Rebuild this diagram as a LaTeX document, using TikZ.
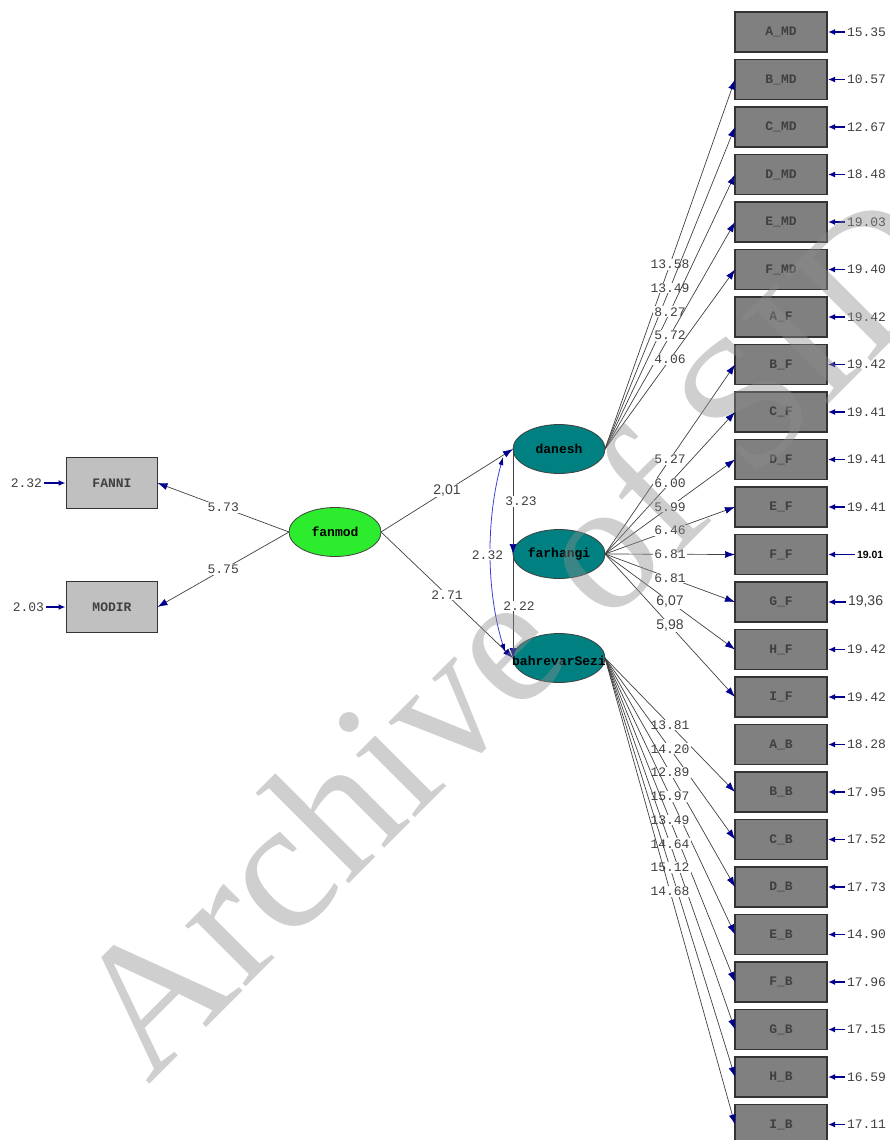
\documentclass[tikz,border=0pt]{standalone}
\usepackage{fontspec}
\newfontfamily\lsmono{Liberation Mono}
\newfontfamily\lssans{Liberation Sans}
\newfontfamily\lsserif{Liberation Serif}
\usetikzlibrary{shapes.geometric,arrows.meta}
\definecolor{lsnavy}{RGB}{0,0,140}
\definecolor{lsblue}{RGB}{60,60,215}
\definecolor{lsteal}{RGB}{0,128,128}
\definecolor{lsgreen}{RGB}{45,235,45}
\definecolor{lsdark}{RGB}{128,128,128}
\definecolor{lslight}{RGB}{192,192,192}
\newcommand\sansnum[1]{{\lssans\fontsize{14}{14}\selectfont #1}}
\newcommand\boldnum[1]{{\lssans\bfseries\fontsize{10.5}{12}\selectfont\color{black}#1}}

\begin{document}
\begin{tikzpicture}[x=1pt,y=-1pt,inner sep=0pt,outer sep=0pt,
mvbox/.style={draw=black!80,rectangle,line width=1.2pt,minimum width=92pt,minimum height=40pt,font=\lsmono\bfseries\fontsize{13}{13}\selectfont,text=black!75},
latvar/.style={draw=black!75,ellipse,line width=0.8pt,minimum width=92pt,minimum height=49pt},
lvname/.style={font=\lsmono\bfseries\fontsize{13}{13}\selectfont,text=black},
tval/.style={fill=white,inner sep=1pt,font=\lsmono\fontsize{13}{13}\selectfont,text=black!75},
errval/.style={font=\lsmono\fontsize{13}{13}\selectfont,text=black!75},
load/.style={draw=black!75,line width=0.7pt,-{Latex[length=10pt,width=7pt,color=lsnavy]}},
errarr/.style={draw=lsnavy,line width=1.6pt,-{Latex[length=7pt,width=6pt]},shorten <=2pt,shorten >=1pt},
covar/.style={draw=lsblue,line width=0.8pt,{Latex[length=8pt,width=5pt,color=lsnavy]}-{Latex[length=8pt,width=5pt,color=lsnavy]}},
wmark/.style={font=\lsserif\fontsize{187}{187}\selectfont,text=black!45,text opacity=0.42}]

\useasboundingbox (0,0) rectangle (889,1140);

% latent variables
\draw (335,532) node[latvar,fill=lsgreen,label={[lvname]center:fanmod}] (fanmod) {};
\draw (559,449) node[latvar,fill=lsteal,label={[lvname]center:danesh}] (danesh) {};
\draw (559,554) node[latvar,fill=lsteal,label={[lvname]center:farhangi}] (farhangi) {};
\draw (559,658) node[latvar,fill=lsteal,label={[lvname,yshift=-3pt]center:bahrevarSezi}] (bahrevar) {};

% left indicators
\draw (112,483) node[mvbox,fill=lslight,minimum width=91pt,minimum height=51pt] (FANNI) {FANNI};
\draw (112,607) node[mvbox,fill=lslight,minimum width=91pt,minimum height=51pt] (MODIR) {MODIR};
\draw (42,483) node[errval,anchor=east] (eFANNI) {2.32};
\draw (44,607) node[errval,anchor=east] (eMODIR) {2.03};
\draw[errarr] (eFANNI.east) -- (FANNI.west);
\draw[errarr] (eMODIR.east) -- (MODIR.west);

% right indicators
\foreach \nm/\txt/\err/\gap [count=\i from 0] in {
  AMD/A\_MD/15.35/20, BMD/B\_MD/10.57/20, CMD/C\_MD/12.67/20, DMD/D\_MD/18.48/20,
  EMD/E\_MD/19.03/20, FMD/F\_MD/19.40/20, AF/A\_F/19.42/20, BF/B\_F/19.42/20,
  CF/C\_F/19.41/20, DF/D\_F/19.41/20, EF/E\_F/19.41/20, FF/F\_F/\boldnum{19.01}/30,
  GF/G\_F/\sansnum{19,36}/21, HF/H\_F/19.42/20, IF/I\_F/19.42/20, AB/A\_B/18.28/20,
  BB/B\_B/17.95/20, CB/C\_B/17.52/20, DB/D\_B/17.73/20, EB/E\_B/14.90/20,
  FB/F\_B/17.96/20, GB/G\_B/17.15/20, HB/H\_B/16.59/20, IB/I\_B/17.11/20}
{
  \draw (781,{32+47.5*\i}) node[mvbox,fill=lsdark] (\nm) {\txt};
  \draw (\nm.east) ++(\gap,0) node[errval,anchor=west] (e\nm) {\err};
  \draw[errarr] (e\nm.west) -- (\nm.east);
}

% loadings
\draw[load] (fanmod.west) -- node[tval] {5.73} (FANNI.east);
\draw[load] (fanmod.west) -- node[tval] {5.75} (MODIR.east);
\draw[load] (fanmod.east) -- node[tval] {\sansnum{2,01}} (danesh.west);
\draw[load] (fanmod.east) -- node[tval] {2.71} (bahrevar.west);
\draw[load] (danesh.west) -- node[tval,xshift=8pt] {3.23} (farhangi.west);
\draw[load] (farhangi.west) -- node[tval,xshift=6pt] {2.22} (bahrevar.west);
\draw[covar] ([xshift=-10pt,yshift=-8pt]danesh.west) .. controls +(-17,63) and +(-19,-62) .. node[tval,xshift=-3pt] {2.32} ([xshift=-8pt,yshift=6pt]bahrevar.west);

\foreach \b/\v in {BMD/13.58, CMD/13.49, DMD/8.27, EMD/5.72, FMD/4.06}
  \draw[load] (danesh.east) -- node[tval] {\v} (\b.west);
\foreach \b/\v in {BF/5.27, CF/6.00, DF/5.99, EF/6.46, FF/6.81, GF/6.81, HF/\sansnum{6,07}, IF/\sansnum{5,98}}
  \draw[load] (farhangi.east) -- node[tval] {\v} (\b.west);
\foreach \b/\v in {BB/13.81, CB/14.20, DB/12.89, EB/15.97, FB/13.49, GB/14.64, HB/15.12, IB/14.68}
  \draw[load] (bahrevar.east) -- node[tval] {\v} (\b.west);

% watermark
\node[wmark,rotate=45,anchor=base west] (wm) at (148,1085) {Archive of SID};
\end{tikzpicture}
\end{document}
